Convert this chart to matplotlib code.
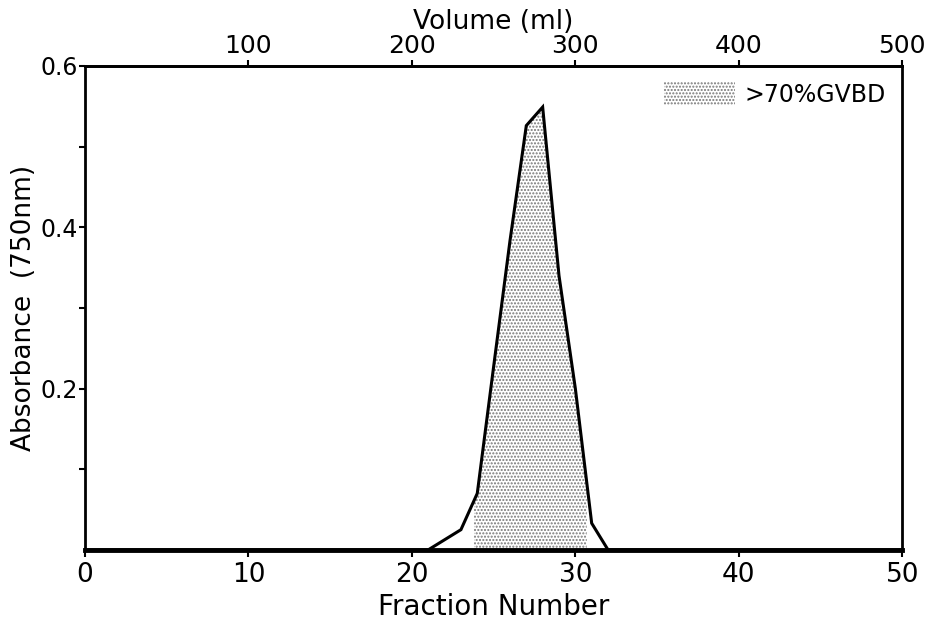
import matplotlib.pyplot as plt
import matplotlib.patches as mpatches
import numpy as np

# fraction number vs absorbance at 750 nm
fractions = [0, 21, 23, 24, 25, 26, 27, 28, 29, 30, 31, 32, 50]
absorbance = [0, 0, 0.025, 0.07, 0.227, 0.383, 0.526, 0.549, 0.34, 0.20, 0.033, 0, 0]

# range of fractions giving >70% GVBD
gvbd_start, gvbd_end = 23.8, 30.7
legend_label = '>70%GVBD'

plt.rcParams['font.family'] = 'DejaVu Sans'
plt.rcParams['hatch.linewidth'] = 1.0
plt.rcParams['hatch.color'] = '#777777'

fig = plt.figure(figsize=(9.34, 6.22), dpi=100)
ax = fig.add_axes([0.091, 0.116, 0.875, 0.778])

ax.plot(fractions, absorbance, color='black', lw=2.2, solid_joinstyle='miter')

xs = [gvbd_start] + [f for f in fractions if gvbd_start < f < gvbd_end] + [gvbd_end]
ys = np.interp(xs, fractions, absorbance)
ax.fill_between(xs, 0, ys, facecolor='white', edgecolor='#777777', hatch='.....', lw=0)

ax.set_xlim(0, 50)
ax.set_ylim(0, 0.6)
ax.set_xticks(np.arange(0, 51, 10))
ax.set_yticks([0.2, 0.4, 0.6])
ax.set_yticks([0.1, 0.3, 0.5], minor=True)
ax.set_yticklabels(['0.2', '0.4', '0.6'])
ax.tick_params(axis='x', labelsize=19, length=5, width=1.5, direction='out', pad=4)
ax.tick_params(axis='y', which='both', labelsize=17, length=4, width=1.5, direction='out', pad=1)

for s in ax.spines.values():
    s.set_linewidth(2)
ax.spines['bottom'].set_linewidth(3.5)

ax.set_xlabel('Fraction Number', fontsize=20, labelpad=3)
ax.set_ylabel('Absorbance  (750nm)', fontsize=19, labelpad=3)

top = ax.secondary_xaxis('top', functions=(lambda x: x * 10, lambda v: v / 10))
top.set_xticks([100, 200, 300, 400, 500])
top.tick_params(labelsize=18, length=4, width=1.5, direction='out', pad=2)
top.set_xlabel('Volume (ml)', fontsize=19, labelpad=3)
top.spines['top'].set_linewidth(2)

patch = mpatches.Patch(facecolor='white', edgecolor='#777777', hatch='.....', lw=0, label=legend_label)
leg = ax.legend(handles=[patch], loc='upper right', frameon=False, fontsize=17,
                handlelength=3.0, handleheight=1.1, handletextpad=0.4,
                borderaxespad=0.3)

fig.savefig('out.png', dpi=100)
